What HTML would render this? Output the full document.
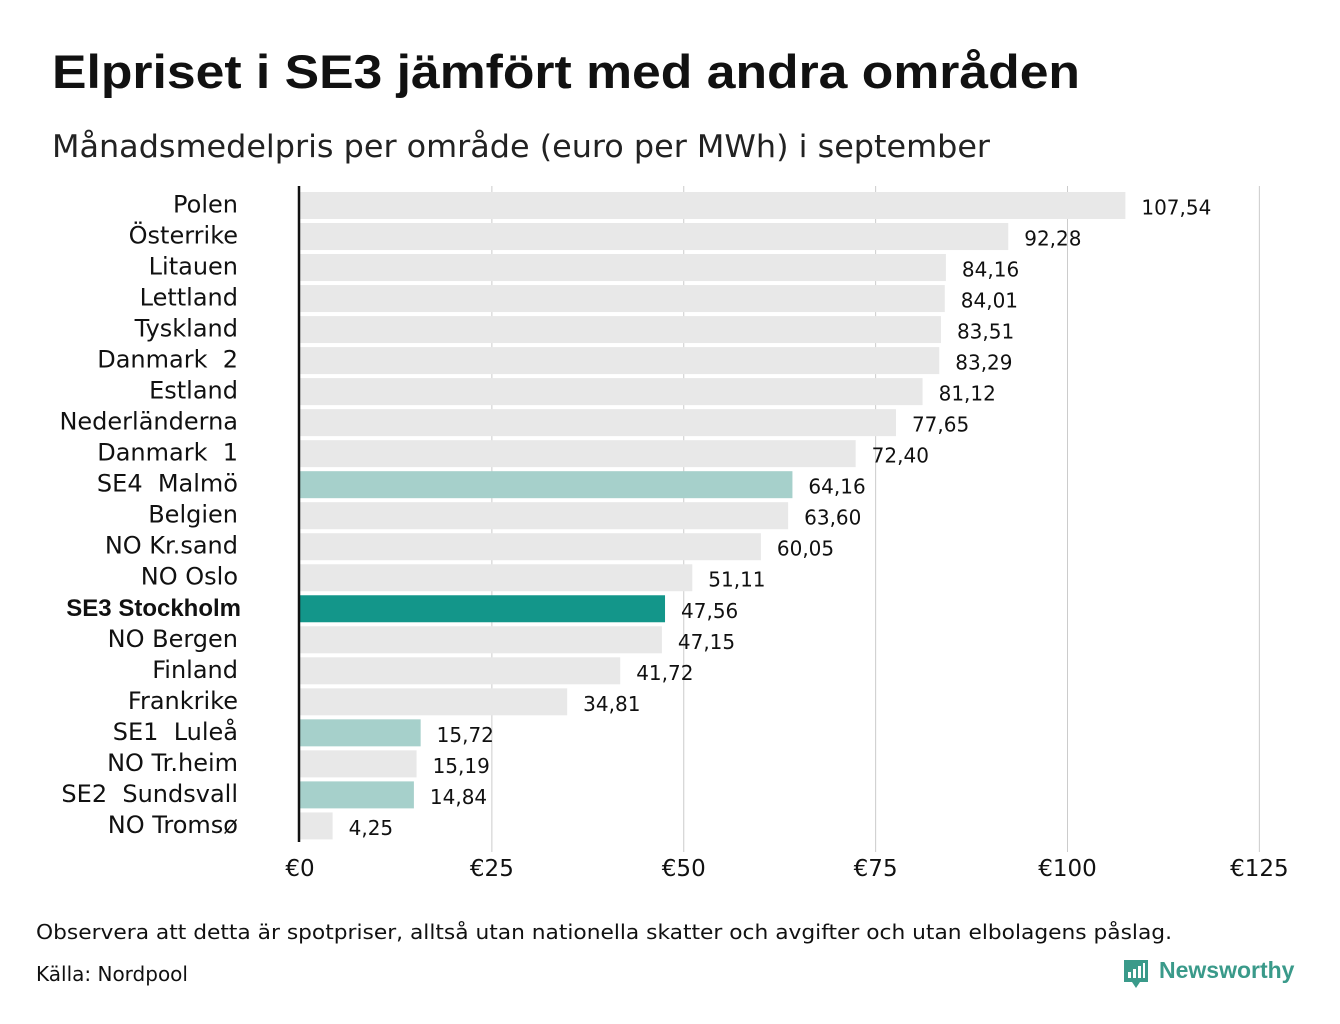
<!DOCTYPE html>
<html><head><meta charset="utf-8"><style>
body{margin:0;background:#fff;width:1340px;height:1020px;overflow:hidden;font-family:"DejaVu Sans","Liberation Sans",sans-serif;color:#111}
</style></head><body>
<svg width="1340" height="1020" xmlns="http://www.w3.org/2000/svg" id="chart">
<text x="52" y="88" font-size="47" font-weight="bold" fill="#111" textLength="1028" lengthAdjust="spacingAndGlyphs" font-family="Liberation Sans, sans-serif">Elpriset i SE3 jämfört med andra områden</text>
<text x="52" y="157" font-size="31" fill="#222" textLength="938" lengthAdjust="spacingAndGlyphs">Månadsmedelpris per område (euro per MWh) i september</text>
<g id="grid"></g><g id="bars"></g>
<line x1="299" y1="186" x2="299" y2="842" stroke="#111" stroke-width="2.5"/>
<text x="36" y="939" font-size="20" fill="#111" textLength="1136" lengthAdjust="spacingAndGlyphs">Observera att detta är spotpriser, alltså utan nationella skatter och avgifter och utan elbolagens påslag.</text>
<text x="36" y="981" font-size="20" fill="#111">Källa: Nordpool</text>
<g>
<path d="M1124 960h24v22h-8l-4 6-4-6h-8z" fill="#3a9a8a"/>
<rect x="1128" y="972" width="3" height="6" fill="#fff"/><rect x="1133" y="969" width="3" height="9" fill="#fff"/><rect x="1138" y="966" width="3" height="12" fill="#fff"/><rect x="1143" y="963" width="2" height="15" fill="#fff"/>
<text x="1159" y="978" font-size="23" font-weight="bold" fill="#3a9a8a" font-family="Liberation Sans, sans-serif">Newsworthy</text>
</g>
</svg>
<script>
const categories=["Polen","Österrike","Litauen","Lettland","Tyskland","Danmark  2","Estland","Nederländerna","Danmark  1","SE4  Malmö","Belgien","NO Kr.sand","NO Oslo","SE3 Stockholm","NO Bergen","Finland","Frankrike","SE1  Luleå","NO Tr.heim","SE2  Sundsvall","NO Tromsø"];
const values=[107.54,92.28,84.16,84.01,83.51,83.29,81.12,77.65,72.40,64.16,63.60,60.05,51.11,47.56,47.15,41.72,34.81,15.72,15.19,14.84,4.25];
const highlight=["none","none","none","none","none","none","none","none","none","se","none","none","none","se3","none","none","none","se","none","se","none"];
const ticks=[0,25,50,75,100,125];
const NS="http://www.w3.org/2000/svg";
const x=v=>300+v*7.675;
const y=i=>192+i*31.02;
const bh=27;
const grid=document.getElementById('grid'),bars=document.getElementById('bars');
function mk(t,a,p){const e=document.createElementNS(NS,t);for(const k in a)e.setAttribute(k,a[k]);p.appendChild(e);return e;}
ticks.forEach(t=>{
 if(t>0){const l=mk('line',{x1:x(t),x2:x(t),y1:186,y2:852,stroke:'#ccc','stroke-width':1},grid);
 
 }
 const tx=mk('text',{x:x(t),y:876,'font-size':23,'text-anchor':'middle',fill:'#111'},grid);
 tx.textContent='€'+t;
 
 
});
categories.forEach((c,i)=>{
 const col=highlight[i]==='se3'?'#13968a':highlight[i]==='se'?'#a6d0cb':'#e8e8e8';
 const r=mk('rect',{x:300,y:y(i),width:x(values[i])-300,height:bh,fill:col},bars);
 
 
 const lb=mk('text',{x:238,y:y(i)+bh/2+7,'font-size':24,'text-anchor':'end',fill:'#111'},bars);
 if(highlight[i]==='se3'){lb.setAttribute('font-weight','bold');lb.setAttribute('x',241);lb.setAttribute('font-family','Liberation Sans, sans-serif');lb.setAttribute('font-size','24');}
 lb.textContent=c;lb.style.whiteSpace='pre';
 
 
 const vl=mk('text',{x:x(values[i])+16,y:y(i)+bh/2+9,'font-size':20,fill:'#111'},bars);
 vl.textContent=values[i].toFixed(2).replace('.',',');
 
 
});
</script>
</body></html>
